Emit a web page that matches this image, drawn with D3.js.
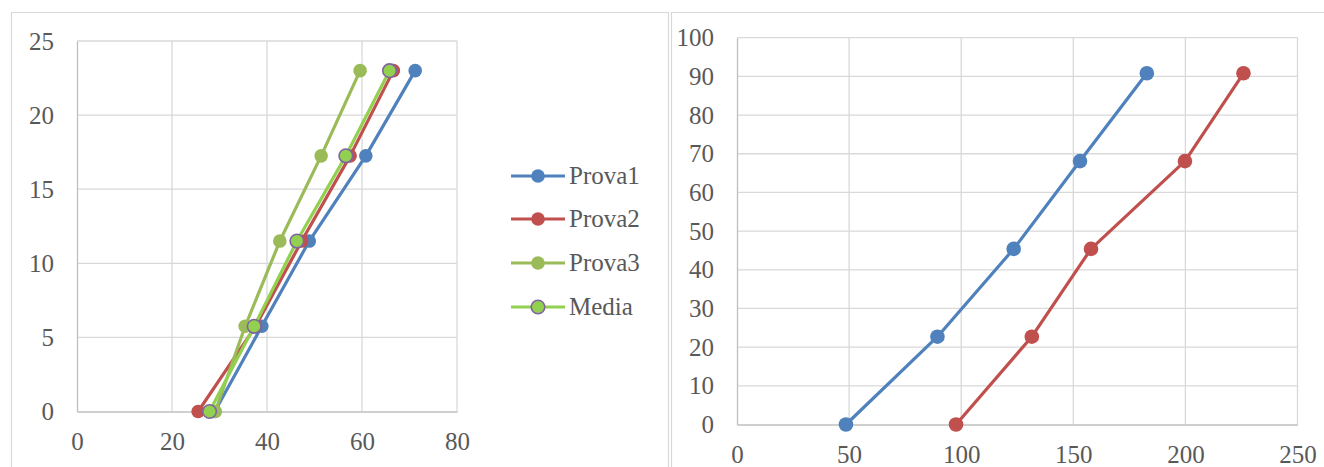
<!DOCTYPE html>
<html>
<head>
<meta charset="utf-8">
<script src="https://cdn.jsdelivr.net/npm/d3@7"></script>
<style>
  html, body { margin: 0; padding: 0; background: #fff; }
  svg { display: block; }
  text { font-family: "Liberation Serif", "Times New Roman", serif; fill: #595959; }
</style>
</head>
<body>
<svg id="chart" width="1324" height="467"></svg>
<script>
// ---- left chart: three trials and their mean ----
const leftY = [0, 5.75, 11.5, 17.25, 23];
const prova1 = [29.0, 38.9, 48.9, 60.8, 71.2];
const prova2 = [25.5, 37.6, 47.3, 57.5, 66.6];
const prova3 = [29.1, 35.4, 42.7, 51.4, 59.6];
const media  = [27.9, 37.3, 46.3, 56.6, 65.8];
const leftNames = ["Prova1", "Prova2", "Prova3", "Media"];
const leftXTicks = [0, 20, 40, 60, 80];
const leftYTicks = [0, 5, 10, 15, 20, 25];

// ---- right chart: two series ----
const rightY = [0, 22.7, 45.4, 68.1, 90.8];
const serieA = [48.6, 89.4, 123.4, 153.0, 182.8];
const serieB = [97.7, 131.5, 157.9, 199.8, 225.9];
const rightXTicks = [0, 50, 100, 150, 200, 250];
const rightYTicks = [0, 10, 20, 30, 40, 50, 60, 70, 80, 90, 100];

const styles = {
  Prova1: { line: "#4F81BD", fill: "#4F81BD", stroke: "none" },
  Prova2: { line: "#C0504D", fill: "#C0504D", stroke: "none" },
  Prova3: { line: "#9BBB59", fill: "#9BBB59", stroke: "none" },
  Media:  { line: "#92D050", fill: "#92D050", stroke: "#8064A2" }
};

const svg = d3.select("#chart");
svg.append("rect").attr("width", 1324).attr("height", 467).attr("fill", "#fff");

// chart frames
const frame = svg.append("g").attr("fill", "none").attr("stroke", "#d9d9d9").attr("stroke-width", 1.2);
frame.append("path").attr("d", "M11.5,480 V12.5 H668.5 V480");
frame.append("path").attr("d", "M671.5,480 V12.5 H1340");

function drawPlot(opts) {
  const { x0, x1, y0, y1, xDomain, yDomain, xTicks, yTicks } = opts;
  const x = d3.scaleLinear().domain(xDomain).range([x0, x1]);
  const y = d3.scaleLinear().domain(yDomain).range([y1, y0]);
  const g = svg.append("g");

  // gridlines
  g.append("g").selectAll("line.v").data(xTicks.slice(1)).join("line")
    .attr("x1", d => x(d)).attr("x2", d => x(d)).attr("y1", y0).attr("y2", y1)
    .attr("stroke", "#d9d9d9").attr("stroke-width", 1.3);
  g.append("g").selectAll("line.h").data(yTicks.slice(1)).join("line")
    .attr("x1", x0).attr("x2", x1).attr("y1", d => y(d)).attr("y2", d => y(d))
    .attr("stroke", "#d9d9d9").attr("stroke-width", 1.3);

  // axes
  const ax = g.append("g").attr("transform", `translate(0,${y1})`)
    .call(d3.axisBottom(x).tickValues(xTicks).tickSize(0).tickPadding(21).tickFormat(d3.format("d")));
  const ay = g.append("g").attr("transform", `translate(${x0},0)`)
    .call(d3.axisLeft(y).tickValues(yTicks).tickSize(0).tickPadding(23).tickFormat(d3.format("d")));
  [ax, ay].forEach(a => {
    a.select(".domain").attr("stroke", "#bfbfbf").attr("stroke-width", 1.3);
    a.selectAll("text").style("font-family", "'Liberation Serif', serif")
      .style("font-size", "25px").attr("fill", "#595959");
  });
  return { g, x, y };
}

function drawSeries(p, xs, ys, st, r) {
  const pts = xs.map((v, i) => [v, ys[i]]);
  const line = d3.line().x(d => p.x(d[0])).y(d => p.y(d[1]));
  const s = p.g.append("g");
  s.append("path").datum(pts).attr("d", line).attr("fill", "none")
    .attr("stroke", st.line).attr("stroke-width", 3.2).attr("stroke-linejoin", "round");
  s.selectAll("circle").data(pts).join("circle")
    .attr("cx", d => p.x(d[0])).attr("cy", d => p.y(d[1])).attr("r", r)
    .attr("fill", st.fill).attr("stroke", st.stroke).attr("stroke-width", 1.6);
}

// left plot
const left = drawPlot({
  x0: 77, x1: 457, y0: 41, y1: 411.5,
  xDomain: [0, 80], yDomain: [0, 25], xTicks: leftXTicks, yTicks: leftYTicks
});
[prova1, prova2, prova3, media].forEach((xs, i) =>
  drawSeries(left, xs, leftY, styles[leftNames[i]], 6.8));

// legend
const legend = svg.append("g");
const rowsY = [176, 219, 263, 307];
leftNames.forEach((name, i) => {
  const st = styles[name];
  const row = legend.append("g").attr("transform", `translate(0,${rowsY[i]})`);
  row.append("line").attr("x1", 511).attr("x2", 565).attr("y1", 0).attr("y2", 0)
    .attr("stroke", st.line).attr("stroke-width", 3.2);
  row.append("circle").attr("cx", 538).attr("cy", 0).attr("r", 6.8)
    .attr("fill", st.fill).attr("stroke", st.stroke).attr("stroke-width", 1.6);
  row.append("text").attr("x", 569).attr("y", 0).attr("dy", "0.33em")
    .style("font-size", "25px").text(name);
});

// right plot
const right = drawPlot({
  x0: 737, x1: 1297.5, y0: 37.7, y1: 424.5,
  xDomain: [0, 250], yDomain: [0, 100], xTicks: rightXTicks, yTicks: rightYTicks
});
drawSeries(right, serieA, rightY, styles.Prova1, 7.3);
drawSeries(right, serieB, rightY, styles.Prova2, 7.3);
</script>
</body>
</html>
